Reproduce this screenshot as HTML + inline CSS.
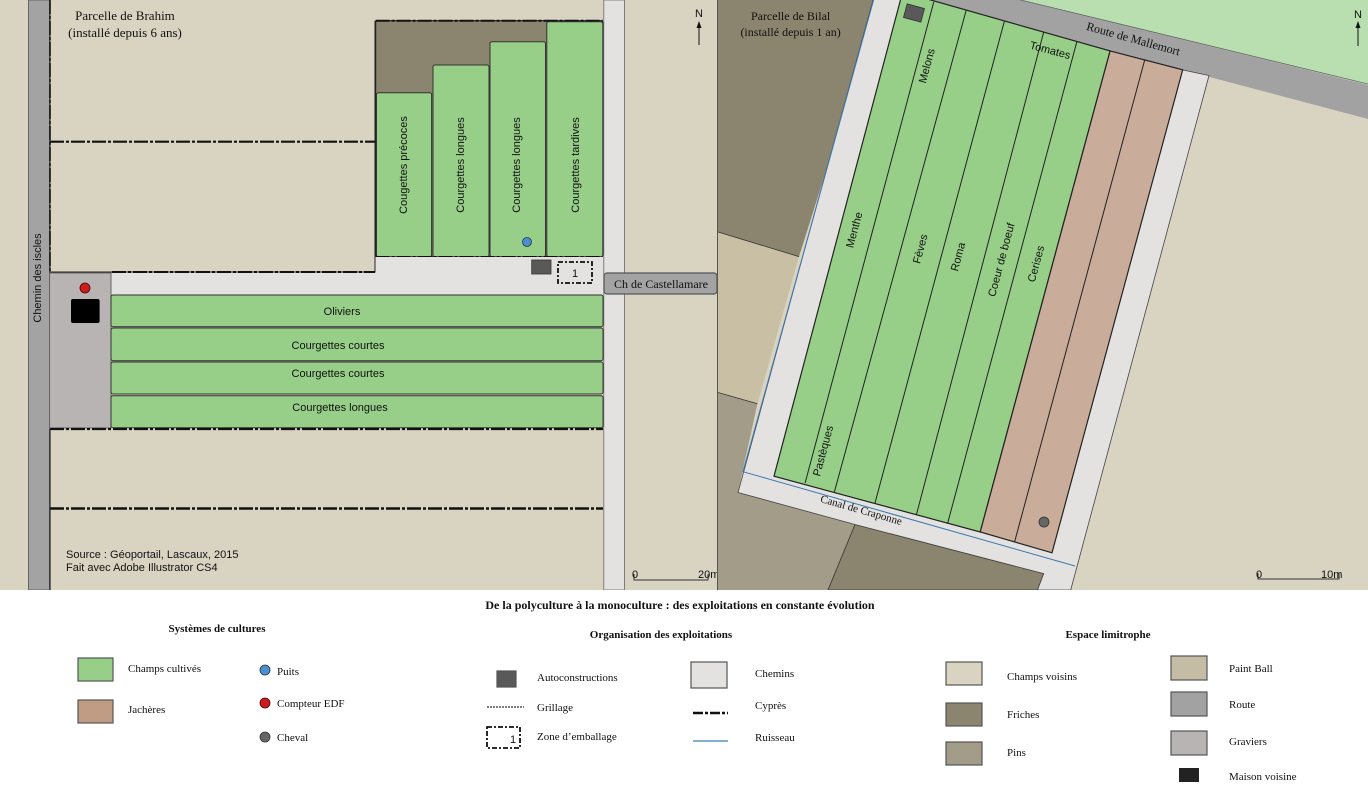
<!DOCTYPE html>
<html><head><meta charset="utf-8"><style>
html,body{margin:0;padding:0;background:#fff;}
svg{display:block;}
.s{font-family:"Liberation Sans",sans-serif;font-size:11px;fill:#111;}
.r{font-family:"Liberation Serif",serif;fill:#111;}
</style></head><body>
<svg width="1368" height="800" viewBox="0 0 1368 800" xmlns="http://www.w3.org/2000/svg">
<defs>
<clipPath id="cl"><rect x="0" y="0" width="718" height="590"/></clipPath>
<clipPath id="cr"><rect x="718" y="0" width="650" height="590"/></clipPath>
</defs>
<!-- LEFT MAP -->
<g clip-path="url(#cl)">
<rect x="0" y="0" width="718" height="590" fill="#d9d3c2"/>
<rect x="28.5" y="0" width="21" height="590" fill="#a3a3a3" stroke="#666" stroke-width="1"/>
<!-- upper beige region outlines -->
<path d="M50 0 V272 H375 V20.7" fill="none" stroke="#222" stroke-width="1"/>
<line x1="50" y1="141.7" x2="375" y2="141.7" stroke="#111" stroke-width="2.2" stroke-dasharray="14 2 3 2"/>
<!-- friches block -->
<rect x="375.6" y="20.7" width="227.2" height="236" rx="2" fill="#8b846e" stroke="#222" stroke-width="1.2"/>
<line x1="375.6" y1="20.7" x2="602.8" y2="20.7" stroke="#111" stroke-width="2" stroke-dasharray="14 2 3 2"/>
<rect x="376.5" y="92.7" width="55.1" height="164" rx="2" fill="#97cf89" stroke="#333" stroke-width="1"/>
<rect x="433" y="65" width="56" height="191.7" rx="2" fill="#97cf89" stroke="#333" stroke-width="1"/>
<rect x="490" y="41.7" width="55.5" height="215" rx="2" fill="#97cf89" stroke="#333" stroke-width="1"/>
<rect x="546.8" y="21.7" width="56" height="235" rx="2" fill="#97cf89" stroke="#333" stroke-width="1"/>
<line x1="375.6" y1="257" x2="602.8" y2="257" stroke="#111" stroke-width="2" stroke-dasharray="14 2 3 2"/>
<text class="s" transform="translate(404,165) rotate(-90)" text-anchor="middle" dominant-baseline="middle">Cougettes précoces</text>
<text class="s" transform="translate(461,165) rotate(-90)" text-anchor="middle" dominant-baseline="middle">Courgettes longues</text>
<text class="s" transform="translate(517,165) rotate(-90)" text-anchor="middle" dominant-baseline="middle">Courgettes longues</text>
<text class="s" transform="translate(576,165) rotate(-90)" text-anchor="middle" dominant-baseline="middle">Courgettes tardives</text>
<!-- path -->
<rect x="111" y="257" width="493" height="38" fill="#e3e2e1"/>
<rect x="111" y="257" width="264" height="15" fill="#d9d3c2"/>
<path d="M50 272 H375 V257" fill="none" stroke="#222" stroke-width="1"/>
<line x1="112" y1="272" x2="375" y2="272" stroke="#111" stroke-width="2" stroke-dasharray="14 2 3 2"/>
<!-- gravel -->
<rect x="49.6" y="273" width="61.4" height="155" fill="#b8b4b3" stroke="#666" stroke-width="1"/>
<circle cx="85" cy="288" r="5" fill="#c81e1e" stroke="#500" stroke-width="0.8"/>
<rect x="71" y="299" width="28.6" height="24" rx="2" fill="#000"/>
<circle cx="527" cy="242" r="4.5" fill="#4a8fd0" stroke="#234" stroke-width="0.8"/>
<rect x="531.7" y="260" width="19.3" height="14" fill="#595959" stroke="#333" stroke-width="0.8"/>
<rect x="558" y="262" width="34" height="21" fill="none" stroke="#111" stroke-width="1.8" stroke-dasharray="5 2 2 2"/>
<text class="s" x="575" y="277" text-anchor="middle" font-size="12">1</text>
<!-- lower fields -->
<rect x="111" y="295" width="492" height="31.7" rx="2" fill="#97cf89" stroke="#333" stroke-width="1"/>
<rect x="111" y="328" width="492" height="32.7" rx="2" fill="#97cf89" stroke="#333" stroke-width="1"/>
<rect x="111" y="362" width="492" height="32" rx="2" fill="#97cf89" stroke="#333" stroke-width="1"/>
<rect x="111" y="395.7" width="492" height="32" rx="2" fill="#97cf89" stroke="#333" stroke-width="1"/>
<text class="s" x="342" y="315" text-anchor="middle">Oliviers</text>
<text class="s" x="338" y="349" text-anchor="middle">Courgettes courtes</text>
<text class="s" x="338" y="377" text-anchor="middle">Courgettes courtes</text>
<text class="s" x="340" y="411" text-anchor="middle">Courgettes longues</text>
<line x1="50" y1="429" x2="603" y2="429" stroke="#111" stroke-width="2.2" stroke-dasharray="14 2 3 2"/>
<line x1="50" y1="508.5" x2="603" y2="508.5" stroke="#111" stroke-width="2.4" stroke-dasharray="14 2 3 2"/>
<line x1="50" y1="429" x2="50" y2="590" stroke="#222" stroke-width="1.2"/>
<line x1="50" y1="0" x2="50" y2="272" stroke="#111" stroke-width="1.6" stroke-dasharray="14 2 3 2"/>
<!-- vertical road -->
<rect x="603.8" y="0" width="20.6" height="590" fill="#e3e2e1" stroke="#666" stroke-width="0.8"/>
<rect x="604" y="273" width="113" height="21" rx="3" fill="#a3a3a3" stroke="#555" stroke-width="1.2"/>
<text class="r" x="661" y="288" text-anchor="middle" font-size="12">Ch de Castellamare</text>
<text class="s" transform="translate(41,278) rotate(-90)" text-anchor="middle" font-size="11">Chemin des iscles</text>
<text class="r" x="125" y="20" text-anchor="middle" font-size="13">Parcelle de Brahim</text>
<text class="r" x="125" y="37" text-anchor="middle" font-size="13">(installé depuis 6 ans)</text>
<text class="s" x="66" y="558" font-size="9">Source : Géoportail, Lascaux, 2015</text>
<text class="s" x="66" y="571" font-size="9">Fait avec Adobe Illustrator CS4</text>
<path d="M634 574 V580 H708 V574" fill="none" stroke="#333" stroke-width="1"/>
<text class="s" x="632" y="578" font-size="7">0</text>
<text class="s" x="698" y="578" font-size="7">20m</text>
<text class="s" x="699" y="17" text-anchor="middle" font-size="7">N</text>
<line x1="699" y1="23" x2="699" y2="45" stroke="#111" stroke-width="1"/>
<path d="M696.5 28 L699 21 L701.5 28 Z" fill="#111"/>
</g>
<line x1="717.5" y1="0" x2="717.5" y2="590" stroke="#555" stroke-width="1"/>
<!-- RIGHT MAP -->
<g clip-path="url(#cr)">
<rect x="718" y="0" width="650" height="590" fill="#d9d3c2"/>
<polygon points="718,0 880,0 799,256.6 718,232" fill="#8b846e"/>
<polygon points="718,232 799,256.6 757.4,403.8 718,392.5" fill="#c8bfa5"/>
<polygon points="718,392.5 757.4,403.8 738,492 855,524.5 828,590 718,590" fill="#a39c89"/>
<line x1="718" y1="232" x2="799" y2="256.6" stroke="#333" stroke-width="0.8"/>
<line x1="718" y1="392.5" x2="757.4" y2="403.8" stroke="#333" stroke-width="0.8"/>
<polygon points="855,524.5 1043.7,573.6 1037.5,590 828,590" fill="#8b846e" stroke="#333" stroke-width="0.8"/>
<polygon points="1000,-5 1368,-5 1368,85" fill="#b9dfb0"/>
<polygon points="900,-5 1000,-5 1368,85 1368,119 1183,70" fill="#a2a2a2"/>
<line x1="1000" y1="-5" x2="1368" y2="84" stroke="#666" stroke-width="0.8"/>
<!-- white path -->
<polygon points="873.6,-2 903,-2 1183,70 1209,75.5 1070.7,590 1037.5,590 1043.7,573.6 855,524.5 738,492.5" fill="#e3e2e1" stroke="#444" stroke-width="0.8"/>
<polyline points="873.6,0 743,471.7 1075,566" fill="none" stroke="#3b78b0" stroke-width="1"/>
<!-- field -->
<polygon points="902.6,-8 1110.1,50.9 980.2,532 774,476.2" fill="#97cf89" stroke="#222" stroke-width="1.2"/>
<polygon points="1110.1,50.9 1182.7,69.8 1052,552.8 980.2,532" fill="#c9ac9a" stroke="#222" stroke-width="1.2"/>
<g stroke="#222" stroke-width="1">
<line x1="933.8" y1="1.9" x2="805.1" y2="483"/>
<line x1="966.1" y1="10.6" x2="834.2" y2="492.5"/>
<line x1="1004.3" y1="21.5" x2="874.8" y2="503.8"/>
<line x1="1043.7" y1="32.1" x2="916.3" y2="515.1"/>
<line x1="1076.9" y1="41.5" x2="947.5" y2="523.8"/>
<line x1="1144.6" y1="60.4" x2="1014.7" y2="541.5"/>
</g>
<rect x="905" y="6" width="18" height="14" fill="#595959" stroke="#333" stroke-width="0.8" transform="rotate(15 914 13)"/>
<circle cx="1044" cy="522" r="5" fill="#666" stroke="#333" stroke-width="0.8"/>
<g class="s">
<text transform="translate(855,230) rotate(-75)" text-anchor="middle" dominant-baseline="middle">Menthe</text>
<text transform="translate(927.5,66) rotate(-75)" text-anchor="middle" dominant-baseline="middle">Melons</text>
<text transform="translate(921,249) rotate(-75)" text-anchor="middle" dominant-baseline="middle">Fèves</text>
<text transform="translate(958.7,257) rotate(-75)" text-anchor="middle" dominant-baseline="middle">Roma</text>
<text transform="translate(1002,260) rotate(-75)" text-anchor="middle" dominant-baseline="middle">Coeur de boeuf</text>
<text transform="translate(1036.7,264) rotate(-75)" text-anchor="middle" dominant-baseline="middle">Cerises</text>
<text transform="translate(823.8,451) rotate(-75)" text-anchor="middle" dominant-baseline="middle">Pastèques</text>
<text transform="translate(1050,51) rotate(15)" text-anchor="middle" dominant-baseline="middle">Tomates</text>
</g>
<text class="r" font-size="12" transform="translate(1133,40) rotate(15.5)" text-anchor="middle" dominant-baseline="middle">Route de Mallemort</text>
<text class="r" font-size="11" transform="translate(861,511) rotate(16)" text-anchor="middle" dominant-baseline="middle">Canal de Craponne</text>
<text class="r" x="790.6" y="20" text-anchor="middle" font-size="12">Parcelle de Bilal</text>
<text class="r" x="790.6" y="36" text-anchor="middle" font-size="12">(installé depuis 1 an)</text>
<text class="s" x="1358" y="18" text-anchor="middle" font-size="7">N</text>
<line x1="1358" y1="22" x2="1358" y2="46" stroke="#111" stroke-width="1"/>
<path d="M1355.5 28 L1358 21 L1360.5 28 Z" fill="#111"/>
<path d="M1258 573 V579 H1339 V573" fill="none" stroke="#333" stroke-width="1"/>
<text class="s" x="1256" y="578" font-size="7">0</text>
<text class="s" x="1321" y="578" font-size="7">10m</text>
</g>
<!-- LEGEND -->
<g class="r" font-size="12">
<text x="680" y="609" text-anchor="middle" font-weight="bold">De la polyculture à la monoculture : des exploitations en constante évolution</text>
<text x="217" y="632" text-anchor="middle" font-weight="bold" font-size="11">Systèmes de cultures</text>
<text x="661" y="638" text-anchor="middle" font-weight="bold" font-size="11">Organisation des exploitations</text>
<text x="1108" y="638" text-anchor="middle" font-weight="bold" font-size="11">Espace limitrophe</text>
</g>
<g stroke="#555" stroke-width="1.2">
<rect x="78" y="658" width="35" height="23" fill="#97cf89"/>
<rect x="78" y="700" width="35" height="23" fill="#c19c84"/>
<rect x="497" y="671" width="19" height="16" fill="#595959"/>
<rect x="691" y="662" width="36" height="26" fill="#e3e2e1"/>
<rect x="946" y="662" width="36" height="23" fill="#d9d3c2"/>
<rect x="946" y="703" width="36" height="23" fill="#8b846e"/>
<rect x="946" y="742" width="36" height="23" fill="#a39c89"/>
<rect x="1171" y="656" width="36" height="24" fill="#c4bca5"/>
<rect x="1171" y="692" width="36" height="24" fill="#a2a2a2"/>
<rect x="1171" y="731" width="36" height="24" fill="#b8b4b3"/>
</g>
<rect x="1179" y="768" width="20" height="14" fill="#222"/>
<circle cx="265" cy="670" r="5" fill="#4a8fd0" stroke="#234" stroke-width="0.8"/>
<circle cx="265" cy="703" r="5" fill="#c81e1e" stroke="#500" stroke-width="0.8"/>
<circle cx="265" cy="737" r="5" fill="#666" stroke="#333" stroke-width="0.8"/>
<line x1="487" y1="707" x2="524" y2="707" stroke="#333" stroke-width="1.2" stroke-dasharray="2 1"/>
<rect x="487" y="727" width="33" height="21" fill="none" stroke="#111" stroke-width="1.8" stroke-dasharray="5 2 2 2"/>
<text class="s" x="510" y="743" font-size="11">1</text>
<line x1="693" y1="713" x2="728" y2="713" stroke="#111" stroke-width="2.4" stroke-dasharray="10 2 3 2"/>
<line x1="693" y1="741" x2="728" y2="741" stroke="#5b93b8" stroke-width="1.6"/>
<g class="r" font-size="11">
<text x="128" y="672">Champs cultivés</text>
<text x="128" y="713">Jachères</text>
<text x="277" y="675">Puits</text>
<text x="277" y="707">Compteur EDF</text>
<text x="277" y="741">Cheval</text>
<text x="537" y="681">Autoconstructions</text>
<text x="537" y="711">Grillage</text>
<text x="537" y="740">Zone d’emballage</text>
<text x="755" y="677">Chemins</text>
<text x="755" y="709">Cyprès</text>
<text x="755" y="741">Ruisseau</text>
<text x="1007" y="680">Champs  voisins</text>
<text x="1007" y="718">Friches</text>
<text x="1007" y="756">Pins</text>
<text x="1229" y="672">Paint Ball</text>
<text x="1229" y="708">Route</text>
<text x="1229" y="745">Graviers</text>
<text x="1229" y="780">Maison voisine</text>
</g>
</svg>
</body></html>
